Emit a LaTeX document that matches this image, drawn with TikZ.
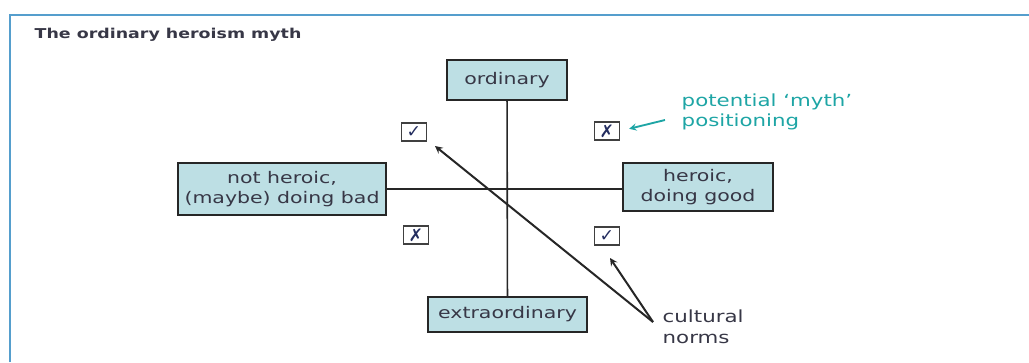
\documentclass[tikz,border=0pt]{standalone}
\usepackage{fontspec}
\setmainfont{DejaVu Sans}[FakeStretch=1.28]
\newfontfamily\symfont{DejaVu Sans}
\usepackage{tikz}
\usetikzlibrary{arrows,shapes,positioning}
\usepackage{xcolor}
\definecolor{hmframe}{RGB}{85,158,205}
\definecolor{hmfill}{RGB}{189,223,228}
\definecolor{hmtext}{RGB}{55,55,70}
\definecolor{hmteal}{RGB}{30,165,165}
\definecolor{hmmark}{RGB}{35,45,95}
\tikzstyle{axisbox} = [draw=black!85, line width=1.2pt, fill=hmfill, text=hmtext, align=center, font=\fontsize{12}{15}\selectfont, inner sep=0pt]
\tikzstyle{markbox} = [draw=black!75, line width=0.9pt, fill=white, minimum width=18.75pt, minimum height=13.5pt, inner sep=0pt, font=\symfont\bfseries\fontsize{13}{13}\selectfont, text=hmmark]
\tikzstyle{arrow} = [line width=1.5pt,->,>=stealth,color=black!85]

\begin{document}
\begin{tikzpicture}[x=0.75pt, y=-0.75pt]
\useasboundingbox (0,0) rectangle (1029,362);
% frame and title
\draw[hmframe, line width=2.2pt] (10,362) -- (10,15) -- (1029,15);
\node[anchor=west, text=hmtext, font=\bfseries\fontsize{10.2}{12}\selectfont] (title) at (30,35) {The ordinary heroism myth};
% axis boxes
\node[axisbox, minimum width=90pt, minimum height=30pt] (ord) at (507,80) {ordinary};
\node[axisbox, minimum width=119pt, minimum height=26pt] (ext) at (507.5,314.5) {extraordinary};
\node[axisbox, minimum width=156pt, minimum height=39pt] (bad) at (282,189) {not heroic,\\(maybe) doing bad};
\node[axisbox, minimum width=112.5pt, minimum height=36pt] (good) at (698,187) {heroic,\\doing good};
\draw[black!85, line width=1.2pt] (ord) -- (ext);
\draw[black!85, line width=1.2pt] (bad.east) -- (bad.east -| good.west);
% quadrant marks
\node[markbox] (tl) at (414,132) {✓};
\node[markbox] (tr) at (607,131) {✗};
\node[markbox] (bl) at (416,235) {✗};
\node[markbox] (br) at (607,236) {✓};
% annotations
\node[anchor=west, text=hmteal, align=left, font=\fontsize{12.5}{15}\selectfont] (myth) at (677,112) {potential `myth'\\positioning};
\coordinate (mythtail) at (665,120);
\draw[hmteal, line width=1.4pt, ->, >=stealth, shorten >=7pt] (mythtail) -- (tr.east);
\node[anchor=west, text=hmtext, align=left, font=\fontsize{12.5}{15.5}\selectfont] (norms) at (658,327) {cultural\\norms};
\coordinate (src) at (653,322);
\coordinate (tlhead) at (435,146);
\coordinate (brhead) at (610,258);
\draw[arrow] (src) -- (tlhead);
\draw[arrow] (src) -- (brhead);
\end{tikzpicture}
\end{document}
